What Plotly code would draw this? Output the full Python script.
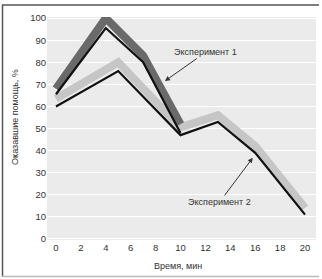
import plotly.graph_objects as go

# Data
exp1_x = [0, 4, 7, 10]
exp1_band = [68, 100, 83, 52]
exp1_edge = [65.5, 95.5, 80, 48]

exp2_x = [0, 5, 10, 13, 16, 20]
exp2_band = [63.5, 80, 50.5, 56, 42, 14]
exp2_edge = [60, 76, 47, 53, 39, 11]

x_ticks = [0, 2, 4, 6, 8, 10, 12, 14, 16, 18, 20]
y_ticks = [0, 10, 20, 30, 40, 50, 60, 70, 80, 90, 100]

FONT = "Liberation Sans, Arial, sans-serif"
TXT = "#333333"

fig = go.Figure()
fig.add_trace(go.Scatter(x=exp2_x, y=exp2_band, mode="lines", cliponaxis=False,
                         line=dict(color="#c6c6c6", width=8), hoverinfo="skip"))
fig.add_trace(go.Scatter(x=exp2_x, y=exp2_edge, mode="lines", cliponaxis=False,
                         line=dict(color="#111111", width=2.2), hoverinfo="skip"))
fig.add_trace(go.Scatter(x=exp1_x, y=exp1_band, mode="lines", cliponaxis=False,
                         line=dict(color="#6a6a6a", width=8), hoverinfo="skip"))
fig.add_trace(go.Scatter(x=exp1_x, y=exp1_edge, mode="lines", cliponaxis=False,
                         line=dict(color="#111111", width=2.2), hoverinfo="skip"))

W, H = 322, 279
ml, mr, mt, mb = 47, 6, 17, 39
pw, ph = W - ml - mr, H - mt - mb


def px(xp):
    return (xp - ml) / pw


def py(yp):
    return 1 - (yp - mt) / ph


fig.add_annotation(x=8.75, y=71.5, xref="x", yref="y", text="Эксперимент 1",
                   showarrow=True, ax=41, ay=-29, arrowhead=2, arrowsize=1,
                   arrowwidth=1, arrowcolor=TXT,
                   font=dict(family=FONT, size=9, color=TXT))
fig.add_annotation(x=15.8, y=36.7, xref="x", yref="y", text="Эксперимент 2",
                   showarrow=True, ax=-33, ay=44, arrowhead=2, arrowsize=1,
                   arrowwidth=1, arrowcolor=TXT,
                   font=dict(family=FONT, size=9, color=TXT))

# axis titles
fig.add_annotation(x=px(15), y=py(117), xref="paper", yref="paper",
                   text="Оказавшие помощь, %", textangle=-90, showarrow=False,
                   xanchor="center", yanchor="middle",
                   font=dict(family=FONT, size=9, color=TXT))
fig.add_annotation(x=px(178), y=py(266), xref="paper", yref="paper",
                   text="Время, мин", showarrow=False,
                   xanchor="center", yanchor="middle",
                   font=dict(family=FONT, size=9, color=TXT))

# frame
fig.add_shape(type="line", xref="paper", yref="paper", x0=px(2.5), x1=px(2.5),
              y0=py(5), y1=py(277), line=dict(color="#555555", width=1.5))
fig.add_shape(type="line", xref="paper", yref="paper", x0=px(2), x1=px(319),
              y0=py(5), y1=py(5), line=dict(color="#555555", width=1.5))
fig.add_shape(type="line", xref="paper", yref="paper", x0=px(2), x1=px(319),
              y0=py(276.5), y1=py(276.5), line=dict(color="#bbbbbb", width=1.5))

fig.update_layout(
    width=W, height=H,
    margin=dict(l=ml, r=mr, t=mt, b=mb, autoexpand=False),
    paper_bgcolor="white",
    plot_bgcolor="#ebebeb",
    showlegend=False,
    font=dict(family=FONT, size=9, color=TXT),
    xaxis=dict(range=[-0.72, 20.88], tickvals=x_ticks, showgrid=False,
               zeroline=False, showline=False, ticks="", automargin=False,
               tickfont=dict(family=FONT, size=9.5, color=TXT)),
    yaxis=dict(range=[-0.5, 100.5], tickvals=y_ticks, showgrid=True,
               gridcolor="white", gridwidth=1.2, zeroline=False, showline=False,
               ticks="", automargin=False,
               tickfont=dict(family=FONT, size=9.5, color=TXT)),
)

fig.write_html("out.html", config={"displayModeBar": False},
               post_script="document.body.style.margin='0';")
